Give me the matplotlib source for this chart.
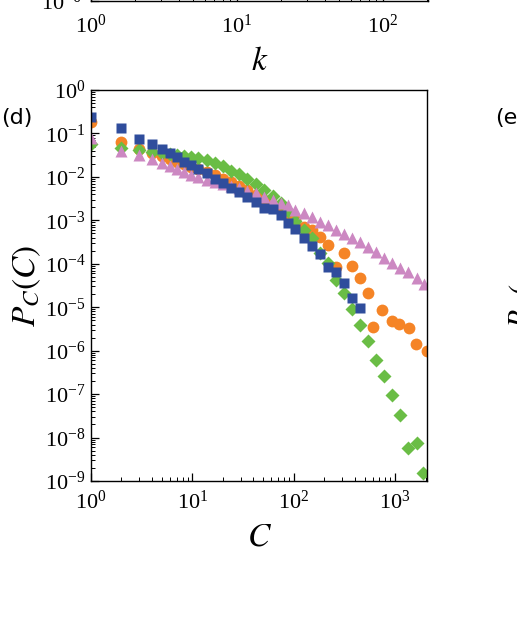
import numpy as np
import matplotlib
matplotlib.use("Agg")
import matplotlib.pyplot as plt
from matplotlib.ticker import LogLocator, NullFormatter

plt.rcParams['mathtext.fontset'] = 'stix'
plt.rcParams['font.family'] = ['Liberation Serif', 'DejaVu Serif']

# log-binned community sizes C and their distribution P_C(C)
C_bins = [1, 2, 3, 4, 5, 6, 7, 8.2, 9.7, 11.5, 13.9, 16.8, 20.2, 24.1, 28.9, 34.9,
          42.6, 51.4, 62.2, 75.1, 88, 104, 127, 151, 182, 217, 260, 316, 375, 453,
          540, 650, 780, 940, 1130, 1356, 1641, 1950]

C_blue = C_bins[:30]
P_blue = [0.243, 0.131, 0.0743, 0.0561, 0.0437, 0.0348, 0.0281, 0.0223, 0.0187, 0.0151,
          0.0120, 0.00876, 0.00708, 0.00561, 0.00440, 0.00348, 0.00267, 0.00188, 0.00181,
          0.00132, 8.85e-4, 6.27e-4, 3.95e-4, 2.55e-4, 1.66e-4, 8.49e-5, 6.31e-5, 3.52e-5,
          1.67e-5, 9.8e-6]

C_orange = C_bins[:31] + [604, 751, 942, 1097, 1377, 1604, 2050]
P_orange = [0.186, 0.0651, 0.0449, 0.0359, 0.0301, 0.0257, 0.0225, 0.0197, 0.0173, 0.0151,
            0.0129, 0.0110, 0.00914, 0.00759, 0.00614, 0.00497, 0.00381, 0.00292, 0.00230,
            0.00181, 0.00139, 0.00104, 7.08e-4, 5.94e-4, 4.17e-4, 2.69e-4, 8.57e-5, 1.73e-4,
            8.81e-5, 4.83e-5, 2.07e-5, 3.46e-6, 8.53e-6, 4.75e-6, 4.06e-6, 3.28e-6, 1.40e-6,
            9.7e-7]

C_green = C_bins[:37] + [1881]
P_green = [0.0585, 0.0461, 0.0415, 0.0383, 0.0363, 0.0344, 0.0327, 0.0310, 0.0294, 0.0271,
           0.0250, 0.0213, 0.0177, 0.0140, 0.0116, 0.00890, 0.00682, 0.00510, 0.00361,
           0.00256, 0.00163, 9.59e-4, 5.94e-4, 3.89e-4, 1.80e-4, 1.03e-4, 4.19e-5, 2.10e-5,
           9.0e-6, 3.99e-6, 1.65e-6, 6.24e-7, 2.57e-7, 9.4e-8, 3.25e-8, 5.6e-9, 7.5e-9,
           1.55e-9]

C_pink = C_bins
P_pink = [0.0771, 0.0404, 0.0327, 0.0253, 0.0211, 0.0177, 0.0151, 0.0131, 0.0113, 0.00989,
          0.00867, 0.00780, 0.00701, 0.00631, 0.00552, 0.00483, 0.00417, 0.00352, 0.00292,
          0.00256, 0.00224, 0.00177, 0.00144, 0.00117, 9.23e-4, 7.75e-4, 5.94e-4, 4.81e-4,
          3.95e-4, 3.20e-4, 2.45e-4, 1.88e-4, 1.37e-4, 1.07e-4, 7.8e-5, 6.5e-5, 4.83e-5,
          3.39e-5]

fig = plt.figure(figsize=(5.17, 6.37), dpi=100)

def style_log_axes(ax):
    for s in ax.spines.values():
        s.set_linewidth(1.0)
    ax.tick_params(which='both', direction='in', top=False, right=False,
                   labelsize=16, pad=7)
    ax.tick_params(which='major', length=6, width=0.9)
    ax.tick_params(which='minor', length=3, width=0.7)

# bottom part of the panel above (only its x axis is visible)
ax_top = fig.add_axes([0.176, 0.9985, 0.652, 0.5])
ax_top.set_xscale('log')
ax_top.set_yscale('log')
ax_top.set_xlim(1, 204)
ax_top.set_ylim(1e-6, 1)
ax_top.set_yticks([1e-6])
ax_top.yaxis.set_minor_formatter(NullFormatter())
style_log_axes(ax_top)
ax_top.tick_params(axis='x', pad=10)
ax_top.set_xlabel('$k$', fontsize=24, labelpad=6)

# panel (d)
ax = fig.add_axes([0.176, 0.2449, 0.650, 0.6138])
ax.set_xscale('log')
ax.set_yscale('log')

ax.plot(C_orange, P_orange, ls='none', marker='o', ms=8.5, color='#F58426', mec='none')
ax.plot(C_green, P_green, ls='none', marker='D', ms=7.2, color='#6ABD45', mec='none')
ax.plot(C_pink, P_pink, ls='none', marker='^', ms=8.5, color='#CC88C2', mec='none')
ax.plot(C_blue, P_blue, ls='none', marker='s', ms=7.8, color='#2F4D9C', mec='none')

ax.set_xlim(1, 2070)
ax.set_ylim(1e-9, 1)
ax.set_yticks([10.0 ** e for e in range(-9, 1)])
ax.yaxis.set_minor_locator(LogLocator(base=10, subs=np.arange(2, 10), numticks=20))
ax.xaxis.set_minor_locator(LogLocator(base=10, subs=np.arange(2, 10), numticks=20))
ax.yaxis.set_minor_formatter(NullFormatter())
ax.xaxis.set_minor_formatter(NullFormatter())
style_log_axes(ax)
ax.tick_params(axis='y', pad=4)

ax.set_xlabel('$C$', fontsize=24, labelpad=6)
ax.set_ylabel('$P_C(C)$', fontsize=24, labelpad=1)

fig.text(0.003, 0.8155, '(d)', fontsize=16, family='DejaVu Sans', va='center', ha='left')
fig.text(0.958, 0.8155, '(e)', fontsize=16, family='DejaVu Sans', va='center', ha='left')
fig.text(0.981, 0.52, '$P_C($', fontsize=22, rotation=90, va='center', ha='left')

fig.savefig('out.png', dpi=100)
